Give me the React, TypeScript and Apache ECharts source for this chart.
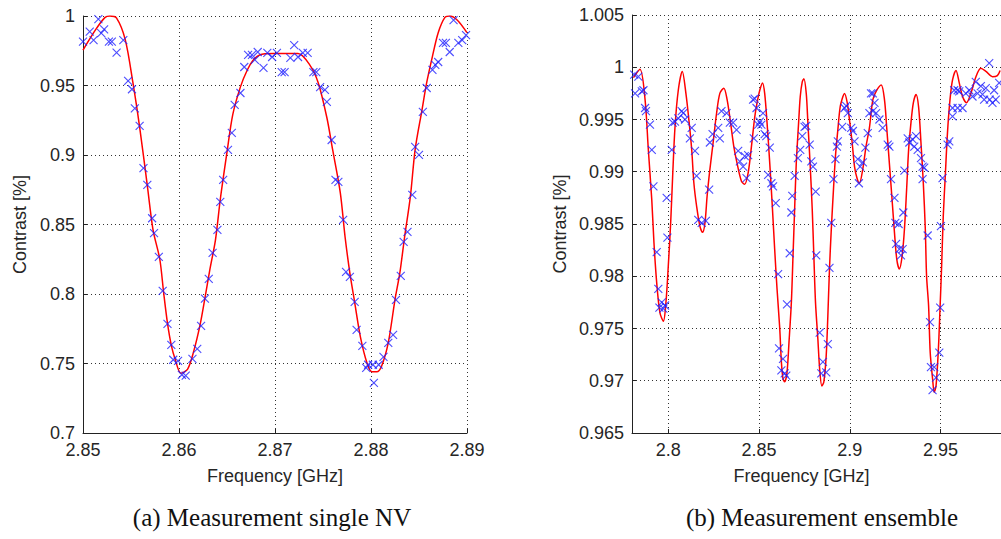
import React, { useEffect, useRef } from "react";
import * as echarts from "echarts";

// ---- (a) single NV : fitted curve [GHz, contrast]
const singleFit: [number, number][] = [
  [2.85, 0.9755], [2.8513, 0.990], [2.8523, 0.999], [2.8528, 1.0], [2.8535, 0.9985],
  [2.8544, 0.983], [2.8552, 0.952], [2.8559, 0.92], [2.8567, 0.878], [2.8573, 0.846],
  [2.858, 0.825], [2.8584, 0.801], [2.8588, 0.779], [2.8592, 0.763], [2.8596, 0.753],
  [2.8602, 0.743], [2.8609, 0.746], [2.8615, 0.758], [2.8622, 0.778], [2.8627, 0.797],
  [2.8632, 0.817], [2.8638, 0.839], [2.8643, 0.868], [2.865, 0.902], [2.8656, 0.929],
  [2.8664, 0.949], [2.8671, 0.961], [2.8677, 0.968], [2.8684, 0.972], [2.8698, 0.973],
  [2.8724, 0.973], [2.8736, 0.965], [2.8745, 0.952], [2.8754, 0.927], [2.876, 0.904],
  [2.8768, 0.873], [2.8773, 0.841], [2.8778, 0.815], [2.8783, 0.794], [2.8789, 0.769],
  [2.8796, 0.75], [2.8801, 0.744], [2.8806, 0.744], [2.8811, 0.748], [2.8818, 0.765],
  [2.8825, 0.796], [2.883, 0.815], [2.8835, 0.841], [2.8841, 0.87], [2.8846, 0.904],
  [2.8853, 0.932], [2.8858, 0.952], [2.8864, 0.971], [2.887, 0.988], [2.8877, 0.999],
  [2.8882, 1.0], [2.889, 0.997], [2.89, 0.988],
];

// ---- (a) single NV : measured points
const singleMeas: [number, number][] = [
  [2.85, 0.9815], [2.8507, 0.9887], [2.8511, 0.9827], [2.8516, 0.9978], [2.8519, 0.9876],
  [2.8522, 0.9904], [2.8527, 0.9815], [2.853, 0.9815], [2.8535, 0.9736], [2.8542, 0.9827],
  [2.8547, 0.9533], [2.8551, 0.9473], [2.8554, 0.9336], [2.8559, 0.9209], [2.8563, 0.8905],
  [2.8567, 0.8785], [2.8572, 0.8545], [2.8574, 0.8438], [2.8579, 0.8267], [2.8583, 0.8023],
  [2.8588, 0.7785], [2.8592, 0.7634], [2.8594, 0.7527], [2.8599, 0.7519], [2.8603, 0.7419],
  [2.8607, 0.7412], [2.8614, 0.7534], [2.8619, 0.7606], [2.8623, 0.7771], [2.8627, 0.7966],
  [2.8631, 0.8109], [2.8635, 0.8296], [2.864, 0.8461], [2.8643, 0.8663], [2.8646, 0.8821],
  [2.8651, 0.9037], [2.8655, 0.9159], [2.8658, 0.936], [2.8664, 0.9446], [2.8668, 0.9633],
  [2.8672, 0.972], [2.8676, 0.972], [2.8679, 0.9684], [2.8682, 0.9741], [2.8688, 0.9626],
  [2.8692, 0.9734], [2.8697, 0.9705], [2.8702, 0.9734], [2.8707, 0.9597], [2.871, 0.9597],
  [2.8716, 0.9698], [2.872, 0.9791], [2.8724, 0.9705], [2.8729, 0.9734], [2.8734, 0.9734],
  [2.874, 0.9597], [2.8743, 0.9597], [2.8747, 0.9489], [2.8752, 0.9468], [2.8754, 0.9382],
  [2.8759, 0.9108], [2.8763, 0.8821], [2.8766, 0.8806], [2.8771, 0.8533], [2.8774, 0.8159],
  [2.8778, 0.8123], [2.8783, 0.7944], [2.8785, 0.7742], [2.8791, 0.7627], [2.8795, 0.7469],
  [2.8797, 0.7491], [2.8802, 0.7491], [2.8803, 0.7361], [2.8808, 0.7491], [2.8813, 0.7548],
  [2.8818, 0.7649], [2.8823, 0.7706], [2.8826, 0.7958], [2.8831, 0.8131], [2.8834, 0.8375],
  [2.8838, 0.8447], [2.8843, 0.8713], [2.8846, 0.9058], [2.885, 0.9001], [2.8854, 0.931],
  [2.8858, 0.9482], [2.8864, 0.9612], [2.8867, 0.9648], [2.887, 0.9669], [2.8875, 0.9806],
  [2.8878, 0.9806], [2.8882, 0.9741], [2.8886, 0.9971], [2.8891, 0.9806], [2.8895, 0.9827],
  [2.8899, 0.9863],
];

// ---- (b) ensemble : fitted curve
const ensembleFit: [number, number][] = [
  [2.7808, 0.999], [2.7844, 0.9998], [2.7872, 0.9969], [2.789, 0.9921], [2.7909, 0.9873],
  [2.7921, 0.9832], [2.7936, 0.9794], [2.7954, 0.9765], [2.7973, 0.9757], [2.7987, 0.9775],
  [2.8, 0.981], [2.8013, 0.9851], [2.8024, 0.9896], [2.8037, 0.9943], [2.8055, 0.9978],
  [2.8077, 0.9996], [2.8097, 0.9975], [2.8115, 0.9947], [2.8129, 0.9921], [2.8141, 0.9889],
  [2.8156, 0.9867], [2.8174, 0.9848], [2.8189, 0.9842], [2.8202, 0.9851], [2.8214, 0.9877],
  [2.8229, 0.9902], [2.8247, 0.9928], [2.8266, 0.9956], [2.8284, 0.9975], [2.8306, 0.998],
  [2.8324, 0.9969], [2.8343, 0.9947], [2.8361, 0.9924], [2.8379, 0.9908], [2.8403, 0.9891],
  [2.8421, 0.9888], [2.844, 0.9899], [2.8458, 0.9924], [2.8476, 0.9952], [2.8489, 0.9966],
  [2.8504, 0.9978], [2.8519, 0.9985], [2.8531, 0.9975], [2.8544, 0.9947], [2.8559, 0.9908],
  [2.8574, 0.9864], [2.8586, 0.9826], [2.8599, 0.9788], [2.8614, 0.975], [2.8623, 0.9718],
  [2.8632, 0.9702], [2.8641, 0.9699], [2.8654, 0.9708], [2.8665, 0.9737], [2.8678, 0.9775],
  [2.8687, 0.9819], [2.8696, 0.9864], [2.8705, 0.9908], [2.8718, 0.9947], [2.8727, 0.9972],
  [2.8738, 0.9986], [2.8747, 0.9989], [2.876, 0.9975], [2.8769, 0.9947], [2.8782, 0.9905],
  [2.8793, 0.9864], [2.8802, 0.9819], [2.8811, 0.9775], [2.8824, 0.974], [2.8834, 0.9711],
  [2.8846, 0.9695], [2.8857, 0.9699], [2.887, 0.9724], [2.8879, 0.9762], [2.8888, 0.9807],
  [2.8898, 0.9845], [2.891, 0.9883], [2.8921, 0.9915], [2.8934, 0.994], [2.8947, 0.9962],
  [2.8962, 0.9972], [2.8971, 0.9975], [2.8986, 0.9966], [2.8998, 0.995], [2.9013, 0.9928],
  [2.9026, 0.9905], [2.9041, 0.9893], [2.9053, 0.9889], [2.9071, 0.9902], [2.909, 0.9925],
  [2.9108, 0.9942], [2.9127, 0.9969], [2.9145, 0.9977], [2.9173, 0.9983], [2.9191, 0.9969],
  [2.9203, 0.9943], [2.9218, 0.9908], [2.9233, 0.9873], [2.9246, 0.9842], [2.9259, 0.9816],
  [2.9273, 0.9807], [2.9288, 0.9819], [2.9301, 0.9845], [2.9313, 0.9883], [2.9324, 0.9921],
  [2.9337, 0.9947], [2.935, 0.9966], [2.9365, 0.9974], [2.9379, 0.9962], [2.9392, 0.9928],
  [2.9405, 0.9889], [2.9416, 0.9845], [2.9423, 0.98], [2.9434, 0.9772], [2.9443, 0.9727],
  [2.9456, 0.9702], [2.9465, 0.9689], [2.9475, 0.9695], [2.9488, 0.973], [2.9497, 0.9769],
  [2.9506, 0.981], [2.9515, 0.9858], [2.9526, 0.9896], [2.9538, 0.9937], [2.9552, 0.9969],
  [2.9566, 0.9988], [2.9585, 0.9997], [2.9603, 0.9985], [2.9621, 0.9972], [2.9643, 0.9966],
  [2.9667, 0.9975], [2.9695, 0.9991], [2.9722, 0.9999], [2.975, 0.9996], [2.9786, 0.9991],
  [2.9813, 0.9992], [2.9828, 0.9997],
];

// ---- (b) ensemble : measured points
const ensembleMeas: [number, number][] = [
  [2.7812, 0.9993], [2.7817, 0.9975], [2.7835, 0.9991], [2.7854, 0.9977], [2.7863, 0.9978],
  [2.7872, 0.9961], [2.7877, 0.9958], [2.7899, 0.9945], [2.7909, 0.9921], [2.7918, 0.9886],
  [2.7936, 0.9823], [2.7945, 0.9788], [2.7951, 0.977], [2.7964, 0.9775], [2.7973, 0.9769],
  [2.7982, 0.9772], [2.7991, 0.9875], [2.7995, 0.9837], [2.8019, 0.9921], [2.8024, 0.9947],
  [2.8037, 0.9948], [2.8055, 0.9951], [2.8074, 0.9958], [2.8082, 0.9956], [2.8092, 0.995],
  [2.8129, 0.9942], [2.8119, 0.9932], [2.8147, 0.992], [2.8156, 0.9896], [2.8165, 0.9854],
  [2.8184, 0.9851], [2.8207, 0.9853], [2.8225, 0.9883], [2.8229, 0.9928], [2.8244, 0.9936],
  [2.8275, 0.9942], [2.8284, 0.9932], [2.8293, 0.9958], [2.8321, 0.9956], [2.8339, 0.9947],
  [2.8357, 0.9947], [2.8376, 0.994], [2.8385, 0.992], [2.8394, 0.991], [2.8412, 0.9905],
  [2.8421, 0.9915], [2.844, 0.9916], [2.8431, 0.9894], [2.8467, 0.9969], [2.8471, 0.9932],
  [2.8476, 0.997], [2.8486, 0.9961], [2.8495, 0.9945], [2.8504, 0.9948], [2.8513, 0.9945],
  [2.8522, 0.9956], [2.8531, 0.9936], [2.854, 0.9934], [2.8559, 0.9923], [2.855, 0.9897],
  [2.8568, 0.9889], [2.8577, 0.9886], [2.8592, 0.987], [2.8605, 0.9802], [2.861, 0.9731],
  [2.8632, 0.9721], [2.8623, 0.971], [2.8641, 0.9707], [2.865, 0.9705], [2.8654, 0.9773],
  [2.8669, 0.9822], [2.8678, 0.9861], [2.8683, 0.9877], [2.8696, 0.9896], [2.8714, 0.9913],
  [2.8727, 0.9921], [2.8738, 0.9934], [2.8751, 0.9943], [2.876, 0.9944], [2.8779, 0.9926],
  [2.8788, 0.991], [2.8797, 0.9905], [2.8812, 0.9881], [2.8815, 0.982], [2.8834, 0.9746],
  [2.8852, 0.9718], [2.8843, 0.9707], [2.887, 0.9708], [2.8879, 0.9735], [2.8888, 0.9808],
  [2.8898, 0.9851], [2.891, 0.9893], [2.8921, 0.9912], [2.8929, 0.9924], [2.8934, 0.9929],
  [2.8958, 0.9943], [2.8971, 0.9961], [2.898, 0.9963], [2.8989, 0.9956], [2.9008, 0.9942],
  [2.9017, 0.9939], [2.9026, 0.9929], [2.9044, 0.9912], [2.9057, 0.9905], [2.9072, 0.9909],
  [2.905, 0.9889], [2.9086, 0.9923], [2.9099, 0.9937], [2.9108, 0.9956], [2.9127, 0.9975],
  [2.9117, 0.9975], [2.9136, 0.9966], [2.9127, 0.9958], [2.9145, 0.9956], [2.9163, 0.995],
  [2.9181, 0.9942], [2.9209, 0.9926], [2.9218, 0.9924], [2.9227, 0.9893], [2.9246, 0.9875],
  [2.9251, 0.9851], [2.9269, 0.985], [2.9255, 0.9831], [2.9273, 0.9826], [2.9282, 0.982],
  [2.9291, 0.9826], [2.9295, 0.9861], [2.9301, 0.9901], [2.9319, 0.9932], [2.9328, 0.9928],
  [2.9346, 0.9931], [2.9355, 0.9924], [2.9365, 0.9934], [2.9374, 0.9921], [2.9392, 0.9913],
  [2.9401, 0.9905], [2.941, 0.9904], [2.9401, 0.9893], [2.9429, 0.9839], [2.9442, 0.9756],
  [2.9447, 0.9713], [2.9465, 0.9713], [2.9475, 0.9703], [2.9456, 0.9691], [2.9493, 0.9727],
  [2.9498, 0.977], [2.9502, 0.9848], [2.9511, 0.9894], [2.9539, 0.9926], [2.9548, 0.9929],
  [2.9566, 0.9953], [2.9575, 0.9978], [2.9594, 0.9978], [2.9566, 0.9961], [2.9594, 0.9961],
  [2.9621, 0.9961], [2.9603, 0.9977], [2.9639, 0.9975], [2.9658, 0.9978], [2.9676, 0.9972],
  [2.9694, 0.9986], [2.9704, 0.9975], [2.9722, 0.9982], [2.9731, 0.9974], [2.974, 0.9969],
  [2.9749, 0.998], [2.9768, 1.0004], [2.9771, 0.9969], [2.9786, 0.9966], [2.9795, 0.9978],
  [2.9804, 0.9969], [2.9823, 0.9985],
];

const axisNames = { x: "Frequency [GHz]", y: "Contrast [%]" };
const captions = ["(a) Measurement single NV", "(b) Measurement ensemble"];

const FONT = "'Liberation Sans', Arial, Helvetica, sans-serif";
const TXT = "#262626";
const fmt = (v: number) => String(Number(v.toFixed(4)));

function xAxisBase(extra: any) {
  return {
    type: "value",
    name: axisNames.x,
    nameLocation: "middle",
    nameGap: 34,
    nameTextStyle: { fontFamily: FONT, fontSize: 18, color: TXT },
    axisLine: { show: true, onZero: false, lineStyle: { color: "#222", width: 1 } },
    axisTick: { show: true, inside: true, length: 4, lineStyle: { color: "#222" } },
    axisLabel: { fontFamily: FONT, fontSize: 18, color: TXT, margin: 8, formatter: fmt },
    splitLine: { show: true, lineStyle: { color: "#333", width: 1, type: [1, 3] } },
    ...extra,
  };
}
function yAxisBase(extra: any) {
  return {
    type: "value",
    name: axisNames.y,
    nameLocation: "middle",
    nameTextStyle: { fontFamily: FONT, fontSize: 18, color: TXT },
    axisLine: { show: true, onZero: false, lineStyle: { color: "#222", width: 1 } },
    axisTick: { show: true, inside: true, length: 4, lineStyle: { color: "#222" } },
    axisLabel: { fontFamily: FONT, fontSize: 18, color: TXT, margin: 8, formatter: fmt },
    splitLine: { show: true, lineStyle: { color: "#333", width: 1, type: [1, 3] } },
    ...extra,
  };
}

const cross = "path://M0,0L10,10M10,0L0,10";

export default function App() {
  const ref = useRef<HTMLDivElement>(null);
  useEffect(() => {
    if (!ref.current) return;
    const chart = echarts.init(ref.current, undefined, { renderer: "svg" });
    chart.setOption({
      animation: false,
      backgroundColor: "#ffffff",
      grid: [
        { left: 83, top: 16, width: 384, height: 417 },
        { left: 632, top: 15, width: 370, height: 418 },
      ],
      xAxis: [
        xAxisBase({ gridIndex: 0, min: 2.85, max: 2.89, interval: 0.01 }),
        xAxisBase({
          gridIndex: 1, min: 2.78, max: 2.9833, splitNumber: 5,
          nameTextStyle: { fontFamily: FONT, fontSize: 18, color: TXT, padding: [0, 30, 0, 0] },
          axisLabel: { fontFamily: FONT, fontSize: 18, color: TXT, margin: 8, formatter: fmt, showMinLabel: false, showMaxLabel: false },
        }),
      ],
      yAxis: [
        yAxisBase({ gridIndex: 0, min: 0.7, max: 1, interval: 0.05, nameGap: 54 }),
        yAxisBase({ gridIndex: 1, min: 0.965, max: 1.005, interval: 0.005, nameGap: 63 }),
      ],
      series: [
        {
          type: "line", xAxisIndex: 0, yAxisIndex: 0, data: singleFit, showSymbol: false,
          smooth: 0.3, lineStyle: { color: "#ff0000", width: 1.5 }, z: 2,
        },
        {
          type: "scatter", xAxisIndex: 0, yAxisIndex: 0, data: singleMeas, symbol: cross, symbolSize: 8,
          itemStyle: { color: "transparent", borderColor: "#1f1fff", borderWidth: 1.1 }, z: 3,
        },
        {
          type: "line", xAxisIndex: 1, yAxisIndex: 1, data: ensembleFit, showSymbol: false,
          smooth: 0.3, lineStyle: { color: "#ff0000", width: 1.5 }, z: 2,
        },
        {
          type: "scatter", xAxisIndex: 1, yAxisIndex: 1, data: ensembleMeas, symbol: cross, symbolSize: 8,
          itemStyle: { color: "transparent", borderColor: "#1f1fff", borderWidth: 1.1 }, z: 3,
        },
      ],
      graphic: [
        {
          type: "text", x: 272, y: 517,
          style: { text: captions[0], font: "25px 'Liberation Serif', 'Times New Roman', serif", fill: "#111", textAlign: "center", textVerticalAlign: "middle" },
        },
        {
          type: "text", x: 822, y: 517,
          style: { text: captions[1], font: "25px 'Liberation Serif', 'Times New Roman', serif", fill: "#111", textAlign: "center", textVerticalAlign: "middle" },
        },
      ],
    });
    return () => chart.dispose();
  }, []);
  return (
    <div
      ref={ref}
      style={{ position: "absolute", left: 0, top: 0, width: 1001, height: 539, background: "#fff" }}
    />
  );
}
